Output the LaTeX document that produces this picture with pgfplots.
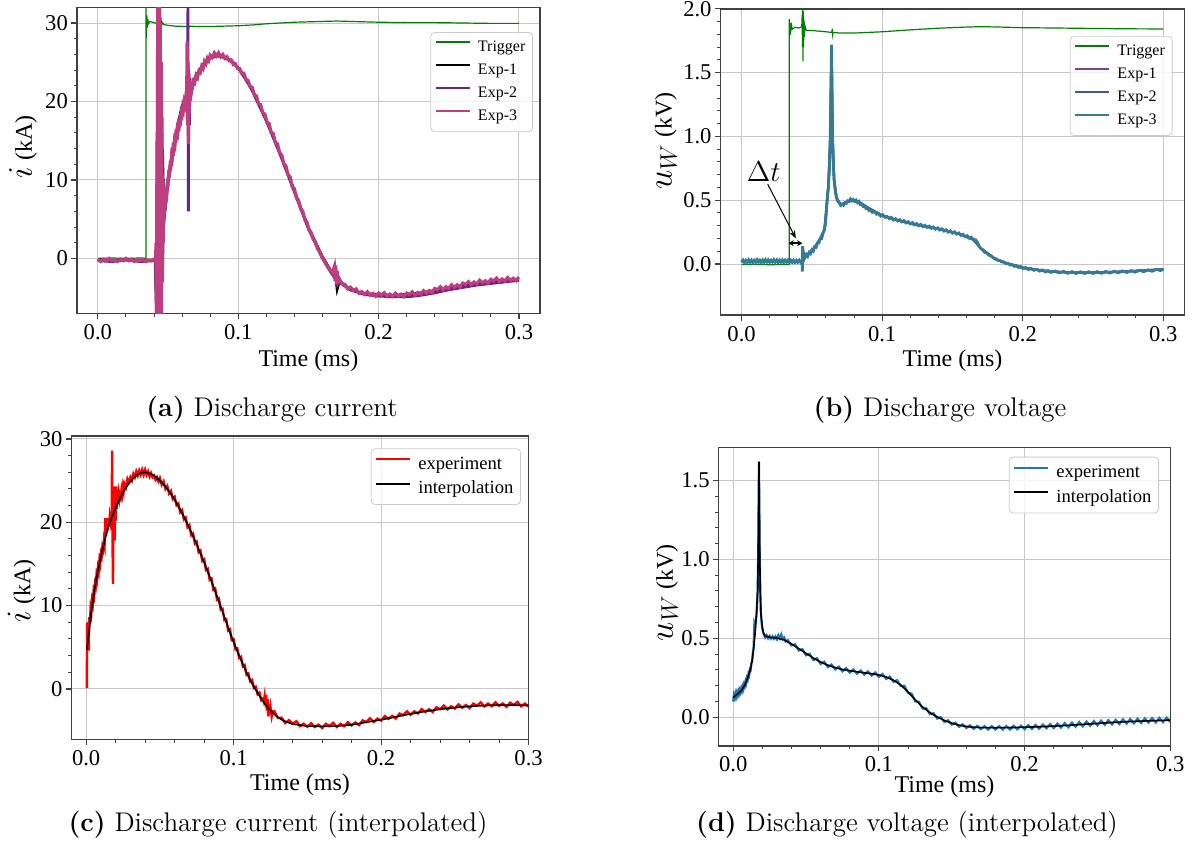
\documentclass[border=0pt]{standalone}
\usepackage{fontspec}
\newfontfamily\libser{Liberation Serif}
\usepackage{pgfplots}
\pgfplotsset{compat=1.18}
\usetikzlibrary{arrows.meta}
\definecolor{mplgreen}{RGB}{0,128,0}
\definecolor{aexptwo}{RGB}{106,35,138}
\definecolor{aexpthree}{RGB}{190,62,128}
\definecolor{bexpone}{RGB}{120,70,145}
\definecolor{bexptwo}{RGB}{65,85,160}
\definecolor{bexpthree}{RGB}{52,124,150}
\definecolor{mplblue}{RGB}{31,119,180}
\newcommand{\bigmath}[1]{{\fontsize{17}{17}\selectfont$#1$}}
\pgfplotsset{
  base/.style={
    scale only axis, anchor=south west,
    grid=major,
    major grid style={line width=0.45pt, draw=black!22},
    axis line style={line width=0.8pt, draw=black!75},
    tick align=outside, xtick pos=left, ytick pos=left,
    major tick length=2.8pt, minor tick length=1.6pt,
    major tick style={line width=0.6pt, black!75},
    minor tick style={line width=0.5pt, black!75},
    minor x tick num=4, minor y tick num=4,
    xtick={0,0.1,0.2,0.3},
    tick label style={font=\libser\fontsize{11.3}{13}\selectfont},
    yticklabel style={inner xsep=1.5pt},
    xticklabel style={inner ysep=2.5pt},
    /pgf/number format/assume math mode=true,
    xticklabel style={/pgf/number format/.cd, fixed, fixed zerofill, precision=1},
    label style={font=\libser\fontsize{12}{14}\selectfont},
    xlabel={Time (ms)},
    legend cell align=left,
    legend image code/.code={\draw[##1, line width=1.0pt] (0pt,2.6pt) -- (17pt,2.6pt);},
    legend style={draw=black!20, line width=0.4pt, rounded corners=2pt, fill=white,
      fill opacity=0.8, text opacity=1, anchor=north east, inner xsep=2pt, inner ysep=2pt,
      row sep=0.3pt, column sep=2pt},
  },
}
\begin{document}
\begin{tikzpicture}
\path[use as bounding box] (0,0) rectangle (597.5pt,-424pt);
%% ---------------- (a) ----------------
\begin{axis}[base, at={(38.4pt,-156.65pt)}, width=231.6pt, height=153pt,
  xmin=-0.015, xmax=0.315, ymin=-7, ymax=32, ytick={0,10,20,30},
  ylabel={\bigmath{i}\ (kA)},
  ylabel style={at={(axis description cs:-0.116,0.5435)}, anchor=center},
  xlabel style={at={(axis description cs:0.5,-0.156)}, anchor=center},
  legend style={at={(1,1)}, xshift=-3.5pt, yshift=-12.35pt,
    font=\libser\fontsize{8}{9}\selectfont,
    nodes={inner sep=1.6pt, text height=6pt, text depth=2pt}}]
\addplot[mplgreen, line width=0.6pt] coordinates {
(0,0.0)(0.01,0.05)(0.02,0.0)(0.03,0.05)(0.0343,0.0)(0.0343,32.5)(0.0346,28.1)(0.0349,31.0)(0.0352,29.4)(0.0356,30.5)(0.036,29.9)(0.037,30.2)(0.039,30.1)(0.041,30.0)(0.0428,30.1)(0.0432,31.5)(0.0435,33)(0.0437,27.2)(0.0439,32.8)(0.0441,27.8)(0.0443,31.6)(0.0446,28.6)(0.0449,30.7)(0.0453,29.5)(0.0458,30.1)(0.047,29.8)(0.05,29.7)(0.055,29.6)(0.0642,29.55)(0.0644,30.2)(0.0646,29.3)(0.065,29.6)(0.07,29.55)(0.08,29.55)(0.09,29.6)(0.1,29.65)(0.11,29.75)(0.12,29.9)(0.13,30.0)(0.14,30.1)(0.15,30.15)(0.16,30.2)(0.17,30.25)(0.18,30.2)(0.19,30.15)(0.2,30.1)(0.22,30.05)(0.24,30.05)(0.26,30.0)(0.28,29.95)(0.3,29.95)
};
\addlegendentry{Trigger}
\addplot[black, line width=1.4pt] coordinates {
(0,-0.2)(0.01,-0.3)(0.02,-0.2)(0.03,-0.3)(0.041,-0.2)(0.042,-8)(0.0428,25)(0.0436,-8)(0.0444,28)(0.0452,-8)(0.046,14)(0.0465,10)(0.047,5.5)(0.050,10.2)(0.055,15.3)(0.060,19.4)(0.062,20.1)(0.065,21.3)(0.070,23.3)(0.075,24.7)(0.080,25.6)(0.085,26.0)(0.09,25.7)(0.095,25.2)(0.1,24.3)(0.105,23.0)(0.11,21.4)(0.12,17.6)(0.13,13.3)(0.14,8.6)(0.15,3.9)(0.16,0.2)(0.165,-1.3)(0.1695,-2.4)(0.1705,-3.9)(0.172,-2.9)(0.18,-4.0)(0.19,-4.5)(0.2,-4.6)(0.21,-4.7)(0.22,-4.6)(0.23,-4.4)(0.24,-4.1)(0.25,-3.8)(0.26,-3.5)(0.27,-3.3)(0.28,-3.0)(0.29,-2.85)(0.3,-2.7)
};
\addlegendentry{Exp-1}
\addplot[aexptwo, line width=1.4pt] coordinates {
(0,-0.3)(0.01,-0.4)(0.02,-0.2)(0.03,-0.4)(0.041,-0.3)(0.0418,-8)(0.0425,30)(0.0432,-8)(0.044,33)(0.0447,-8)(0.0455,20)(0.046,-2)(0.0467,4)(0.050,9.6)(0.055,14.8)(0.060,18.4)(0.0638,20.5)(0.0642,33)(0.0645,6.0)(0.0648,24)(0.0652,17)(0.0656,23)(0.066,21)(0.070,23.2)(0.075,24.6)(0.080,25.5)(0.085,25.8)(0.09,25.6)(0.095,25.1)(0.1,24.3)(0.11,21.5)(0.12,17.6)(0.13,13.2)(0.14,8.5)(0.15,3.8)(0.16,0.0)(0.165,-1.5)(0.17,-2.8)(0.18,-4.0)(0.19,-4.6)(0.2,-4.8)(0.21,-4.9)(0.22,-4.9)(0.23,-4.7)(0.24,-4.4)(0.25,-4.0)(0.26,-3.7)(0.27,-3.4)(0.28,-3.2)(0.29,-3.0)(0.3,-2.8)
};
\addlegendentry{Exp-2}
\addplot[aexpthree, line width=1.6pt] coordinates {
(0,-0.1)(0.002,-0.4)(0.004,-0.1)(0.006,-0.3)(0.008,0.0)(0.010,-0.3)(0.012,-0.2)(0.014,-0.4)(0.016,-0.1)(0.018,-0.3)(0.020,0.0)(0.022,-0.3)(0.024,-0.1)(0.026,-0.4)(0.028,-0.2)(0.030,-0.3)(0.032,-0.1)(0.034,-0.4)(0.036,-0.2)(0.038,-0.3)(0.040,-0.1)(0.041,-0.3)
(0.0415,2)(0.0418,-8)(0.0421,15)(0.0424,-8)(0.0427,33)(0.0430,-8)(0.0433,33)(0.0436,-8)(0.0439,33)(0.0442,-8)(0.0445,30)(0.0448,-8)(0.0451,25)(0.0454,-8)(0.0457,18)(0.0460,-3)(0.0463,10)(0.0466,2)(0.0468,7)
(0.0470,5.0)(0.0475,6.4)(0.0480,6.7)(0.0485,8.2)(0.0490,8.0)(0.0495,9.6)(0.0500,9.5)(0.0505,10.9)(0.0510,10.8)(0.0515,12.0)(0.0520,11.9)(0.0525,13.1)(0.0530,12.8)(0.0535,14.0)(0.0540,13.8)(0.0545,14.9)(0.0550,14.6)(0.0555,15.7)(0.0560,15.5)(0.0565,16.4)(0.0570,16.1)(0.0575,17.1)(0.0580,16.9)(0.0585,17.8)(0.0590,17.6)(0.0595,18.5)(0.0600,18.3)(0.0605,19.3)(0.0610,19.0)(0.0615,19.9)(0.0620,19.6)(0.0625,20.4)(0.0630,20.1)
(0.0633,21)(0.0636,27.7)(0.0639,17)(0.0642,25)(0.0645,14.6)(0.0648,23.5)(0.0651,18.5)(0.0655,22.6)(0.066,20.8)(0.0665,22.3)(0.067,21.5)
(0.068,22.6)(0.069,22.4)(0.070,23.3)(0.071,23.0)(0.072,23.9)(0.073,23.7)(0.074,24.5)(0.075,24.2)(0.076,25.1)(0.077,24.8)(0.078,25.5)(0.079,25.2)(0.080,25.9)(0.0815,25.6)(0.083,26.2)(0.0845,25.8)(0.086,26.2)(0.0875,25.7)(0.089,26.0)(0.0905,25.5)(0.092,25.7)(0.0935,25.2)(0.095,25.3)(0.0965,24.7)(0.098,24.8)(0.0995,24.2)(0.101,24.2)(0.1025,23.6)(0.104,23.6)(0.1055,22.8)(0.107,22.7)(0.1085,21.9)(0.110,21.8)(0.1115,20.8)(0.113,20.7)(0.1145,19.7)(0.116,19.6)(0.1175,18.5)(0.119,18.4)(0.1205,17.3)(0.122,17.2)(0.1235,16.0)(0.125,15.9)(0.1265,14.7)(0.128,14.6)(0.1295,13.4)(0.131,13.2)(0.1325,12.0)(0.134,11.8)(0.1355,10.6)(0.137,10.4)(0.1385,9.1)(0.140,8.9)(0.1415,7.7)(0.143,7.4)(0.1445,6.3)(0.146,6.0)(0.1475,4.9)(0.149,4.6)(0.1505,3.6)(0.152,3.3)(0.1535,2.4)(0.155,2.1)(0.1565,1.2)(0.158,0.9)(0.1595,0.2)(0.161,-0.2)(0.1625,-0.7)(0.164,-1.0)(0.1655,-1.5)(0.167,-1.8)
(0.1685,-1.0)(0.169,-2.9)(0.1695,-0.9)(0.170,-3.3)(0.1705,-1.6)(0.171,-3.0)
(0.172,-2.58)(0.174,-3.25)(0.176,-3.30)(0.178,-3.90)(0.180,-3.67)(0.182,-4.07)(0.184,-3.89)(0.186,-4.45)(0.188,-4.23)(0.190,-4.58)(0.192,-4.25)(0.194,-4.67)(0.196,-4.47)(0.198,-4.83)(0.200,-4.43)(0.202,-4.67)(0.204,-4.37)(0.206,-4.84)(0.208,-4.55)(0.210,-4.84)(0.212,-4.44)(0.214,-4.80)(0.216,-4.56)(0.218,-4.88)(0.220,-4.42)(0.222,-4.62)(0.224,-4.27)(0.226,-4.70)(0.228,-4.35)(0.230,-4.57)(0.232,-4.11)(0.234,-4.41)(0.236,-4.10)(0.238,-4.35)(0.240,-3.84)(0.242,-3.99)(0.244,-3.61)(0.246,-4.00)(0.248,-3.62)(0.250,-3.83)(0.252,-3.36)(0.254,-3.67)(0.256,-3.37)(0.258,-3.64)(0.260,-3.15)(0.262,-3.32)(0.264,-2.96)(0.266,-3.36)(0.268,-3.01)(0.270,-3.24)(0.272,-2.79)(0.274,-3.12)(0.276,-2.85)(0.278,-3.14)(0.280,-2.67)(0.282,-2.87)(0.284,-2.52)(0.286,-2.95)(0.288,-2.62)(0.290,-2.87)(0.292,-2.44)(0.294,-2.78)(0.296,-2.53)(0.298,-2.83)(0.300,-2.38)
};
\addlegendentry{Exp-3}
\end{axis}
%% ---------------- (b) ----------------
\begin{axis}[base, at={(360.25pt,-157.5pt)}, width=231.95pt, height=153.1pt,
  xmin=-0.015, xmax=0.315, ymin=-0.4, ymax=2.0, ytick={0,0.5,1,1.5,2},
  yticklabel style={/pgf/number format/.cd, fixed, fixed zerofill, precision=1},
  ylabel={\bigmath{u_W}\ (kV)},
  ylabel style={at={(axis description cs:-0.1175,0.569)}, anchor=center},
  xlabel style={at={(axis description cs:0.5,-0.1495)}, anchor=center},
  legend style={at={(1,1)}, xshift=-5.95pt, yshift=-13.5pt,
    font=\libser\fontsize{8}{9}\selectfont,
    nodes={inner sep=1.6pt, text height=6pt, text depth=2pt}}]
\addplot[mplgreen, line width=0.6pt] coordinates {
(0,-0.005)(0.01,-0.003)(0.02,-0.006)(0.03,-0.004)(0.0339,-0.005)(0.0339,1.92)(0.0342,1.80)(0.0346,1.89)(0.035,1.83)(0.0355,1.87)(0.036,1.84)(0.038,1.855)(0.041,1.85)(0.0428,1.86)(0.0431,1.95)(0.0433,1.70)(0.0435,2.02)(0.0437,1.59)(0.0439,1.98)(0.0441,1.70)(0.0443,1.92)(0.0446,1.78)(0.045,1.87)(0.046,1.83)(0.05,1.83)(0.06,1.82)(0.0642,1.815)(0.0645,1.845)(0.0648,1.80)(0.065,1.815)(0.07,1.81)(0.08,1.81)(0.09,1.815)(0.1,1.82)(0.12,1.835)(0.14,1.848)(0.16,1.857)(0.17,1.86)(0.18,1.858)(0.2,1.852)(0.22,1.85)(0.25,1.846)(0.28,1.843)(0.3,1.842)
};
\addlegendentry{Trigger}
\addplot[bexpone, line width=1.2pt] coordinates {
(0,0.02)(0.01,0.02)(0.02,0.02)(0.03,0.02)(0.043,0.02)(0.0433,-0.05)(0.0435,0.13)(0.044,0.04)(0.048,0.085)(0.052,0.13)(0.056,0.2)(0.059,0.27)(0.0605,0.45)(0.0617,0.6)(0.063,0.95)(0.064,1.7)(0.0647,1.0)(0.0658,0.66)(0.0675,0.52)(0.0705,0.46)(0.0775,0.5)(0.0835,0.485)(0.09,0.44)(0.1,0.38)(0.11,0.345)(0.125,0.305)(0.14,0.275)(0.155,0.235)(0.165,0.19)(0.17,0.125)(0.18,0.04)(0.19,0.0)(0.2,-0.03)(0.22,-0.06)(0.24,-0.068)(0.26,-0.065)(0.28,-0.055)(0.3,-0.042)
};
\addlegendentry{Exp-1}
\addplot[bexptwo, line width=1.2pt] coordinates {
(0,0.02)(0.01,0.02)(0.02,0.02)(0.03,0.02)(0.043,0.02)(0.0433,-0.05)(0.0435,0.13)(0.044,0.04)(0.048,0.085)(0.052,0.13)(0.056,0.2)(0.059,0.27)(0.0605,0.45)(0.0617,0.6)(0.063,0.95)(0.064,1.7)(0.0647,1.0)(0.0658,0.66)(0.0675,0.52)(0.0705,0.46)(0.0775,0.5)(0.0835,0.485)(0.09,0.44)(0.1,0.38)(0.11,0.345)(0.125,0.305)(0.14,0.275)(0.155,0.235)(0.165,0.19)(0.17,0.125)(0.18,0.04)(0.19,0.0)(0.2,-0.03)(0.22,-0.06)(0.24,-0.068)(0.26,-0.065)(0.28,-0.055)(0.3,-0.042)
};
\addlegendentry{Exp-2}
\addplot[bexpthree, line width=1.4pt] coordinates {
(0,0.015)(0.001,0.03)(0.002,0.01)(0.003,0.028)(0.004,0.012)(0.005,0.032)(0.006,0.014)(0.007,0.03)(0.008,0.01)(0.009,0.029)(0.010,0.013)(0.011,0.033)(0.012,0.015)(0.013,0.03)(0.014,0.012)(0.015,0.031)(0.016,0.014)(0.017,0.034)(0.018,0.016)(0.019,0.032)(0.020,0.013)(0.021,0.03)(0.022,0.015)(0.023,0.033)(0.024,0.014)(0.025,0.031)(0.026,0.012)(0.027,0.03)(0.028,0.015)(0.029,0.032)(0.030,0.013)(0.031,0.03)(0.032,0.014)(0.033,0.031)(0.034,0.012)(0.035,0.029)(0.036,0.013)(0.037,0.03)(0.038,0.012)(0.039,0.028)(0.040,0.013)(0.041,0.03)(0.042,0.014)(0.043,0.028)
(0.0432,-0.06)(0.0434,0.14)(0.0436,0.01)(0.0438,0.1)(0.044,0.04)(0.0445,0.07)
(0.045,0.05)(0.046,0.075)(0.047,0.06)(0.048,0.09)(0.049,0.08)(0.050,0.11)(0.051,0.10)(0.052,0.135)(0.053,0.13)(0.054,0.165)(0.055,0.165)(0.056,0.2)(0.057,0.2)(0.058,0.245)(0.059,0.27)(0.0598,0.33)(0.0605,0.45)(0.061,0.53)(0.0617,0.6)(0.0624,0.72)(0.063,0.95)(0.0635,1.3)(0.0640,1.72)(0.0643,1.35)(0.0647,1.0)(0.0652,0.8)(0.0658,0.66)(0.0665,0.58)(0.0675,0.52)(0.0685,0.49)(0.0695,0.48)(0.0705,0.46)(0.0715,0.47)(0.0725,0.46)(0.0735,0.48)(0.0745,0.475)(0.0755,0.495)(0.0765,0.49)(0.0775,0.51)(0.0785,0.495)(0.0795,0.505)(0.0805,0.49)(0.0815,0.5)(0.0825,0.48)(0.0835,0.49)(0.0845,0.465)(0.0855,0.47)(0.0865,0.45)(0.0875,0.455)(0.0885,0.435)(0.0895,0.44)(0.0905,0.42)(0.0915,0.425)(0.093,0.405)(0.0945,0.41)(0.096,0.39)(0.0975,0.395)(0.099,0.375)(0.1005,0.385)(0.102,0.365)(0.1035,0.372)(0.105,0.355)(0.1065,0.365)(0.108,0.345)(0.1095,0.355)(0.111,0.338)(0.1125,0.348)(0.114,0.33)(0.1155,0.34)(0.117,0.322)(0.1185,0.332)(0.120,0.315)(0.1215,0.325)(0.123,0.307)(0.1245,0.317)(0.126,0.3)(0.1275,0.31)(0.129,0.293)(0.1305,0.303)(0.132,0.287)(0.1335,0.297)(0.135,0.28)(0.1365,0.29)(0.138,0.273)(0.1395,0.283)(0.141,0.266)(0.1425,0.276)(0.144,0.258)(0.1455,0.268)(0.147,0.25)(0.1485,0.26)(0.150,0.242)(0.1515,0.252)(0.153,0.234)(0.1545,0.243)(0.156,0.225)(0.1575,0.233)(0.159,0.214)(0.1605,0.222)(0.162,0.203)(0.1635,0.21)(0.165,0.19)(0.1665,0.19)(0.168,0.165)(0.169,0.14)(0.170,0.122)(0.1715,0.11)(0.173,0.09)(0.1745,0.085)(0.176,0.068)(0.1775,0.065)(0.179,0.048)(0.1805,0.045)(0.182,0.03)(0.1835,0.03)(0.185,0.015)(0.1865,0.016)(0.188,0.003)(0.1895,0.006)(0.191,-0.008)(0.1925,-0.004)(0.194,-0.018)(0.1955,-0.013)(0.197,-0.027)(0.1985,-0.02)(0.200,-0.035)(0.202,-0.028)(0.204,-0.044)(0.206,-0.036)(0.208,-0.05)(0.210,-0.042)(0.212,-0.056)(0.214,-0.047)(0.216,-0.062)(0.218,-0.051)(0.220,-0.066)(0.223,-0.055)(0.226,-0.07)(0.229,-0.058)(0.232,-0.073)(0.235,-0.06)(0.238,-0.075)(0.241,-0.061)(0.244,-0.075)(0.247,-0.061)(0.250,-0.074)(0.253,-0.06)(0.256,-0.073)(0.259,-0.058)(0.262,-0.071)(0.265,-0.057)(0.268,-0.069)(0.271,-0.055)(0.274,-0.067)(0.277,-0.052)(0.280,-0.064)(0.283,-0.049)(0.286,-0.061)(0.289,-0.046)(0.292,-0.057)(0.295,-0.042)(0.298,-0.052)(0.300,-0.04)
};
\addlegendentry{Exp-3}
\node[font=\fontsize{14}{14}\selectfont] at (axis cs:0.0157,0.72) {$\Delta t$};
\draw[-{Stealth[length=4pt,width=3pt]}, line width=0.5pt] (axis cs:0.0186,0.625) -- (axis cs:0.0386,0.2);
\draw[{Stealth[length=2.6pt,width=3pt]}-{Stealth[length=2.6pt,width=3pt]}, line width=1pt] (axis cs:0.0334,0.163) -- (axis cs:0.0432,0.163);
\end{axis}
%% ---------------- (c) ----------------
\begin{axis}[base, at={(35.7pt,-369.65pt)}, width=228.6pt, height=151.65pt,
  xmin=-0.01, xmax=0.3, ymin=-6.05, ymax=30.35, ytick={0,10,20,30},
  ylabel={\bigmath{i}\ (kA)},
  ylabel style={at={(axis description cs:-0.109,0.489)}, anchor=center},
  xlabel style={at={(axis description cs:0.5,-0.151)}, anchor=center},
  legend style={at={(1,1)}, xshift=-3.8pt, yshift=-6.15pt,
    font=\libser\fontsize{9.3}{10}\selectfont,
    nodes={inner sep=1.6pt, text height=6.8pt, text depth=1.8pt}}]
\addplot[red, line width=1.2pt] coordinates {
(0.0005,0.1)(0.0006,7.9)(0.0009,5.6)(0.0012,8.0)(0.0015,6.3)(0.0018,4.6)(0.0021,8.6)(0.0025,7.8)(0.003,9.6)(0.0035,9.1)(0.004,10.6)(0.0045,10.2)(0.005,11.6)(0.0055,11.2)(0.006,12.6)(0.0065,12.3)(0.007,13.6)(0.0075,13.2)(0.008,14.5)(0.0085,14.1)(0.009,15.4)(0.0095,15.0)(0.010,16.2)(0.0105,15.9)(0.011,17.0)(0.0115,16.7)(0.012,17.8)(0.0125,17.3)(0.013,20.5)(0.0135,18.3)(0.014,20.5)(0.0145,19.0)(0.015,20.2)(0.0155,19.5)(0.016,20.7)(0.0165,20.1)(0.017,21.2)(0.0173,20.4)(0.0176,28.6)(0.0179,17.5)(0.0182,12.6)(0.0185,23.8)(0.0188,19.0)(0.0191,24.3)(0.0194,17.8)(0.0197,23.0)(0.0200,20.2)(0.0203,24.3)(0.0207,21.6)(0.021,23.5)(0.0215,22.3)(0.022,23.4)(0.0225,22.7)(0.023,23.3)(0.0235,23.0)(0.024,23.9)(0.0245,23.4)(0.025,24.3)(0.0255,23.8)(0.026,24.6)(0.027,24.2)(0.028,25.2)(0.029,24.8)(0.030,25.4)(0.031,25.0)(0.032,25.8)(0.033,25.4)(0.034,26.1)(0.035,25.6)(0.036,26.2)(0.037,25.7)(0.038,26.3)(0.039,25.7)(0.040,26.3)(0.041,25.7)(0.042,26.1)(0.043,25.5)(0.044,25.9)(0.045,25.4)(0.046,25.6)(0.047,25.1)(0.048,25.4)(0.049,24.9)
(0.050,25.3)(0.05125,24.5)(0.0525,24.9)(0.05375,24.0)(0.055,24.35)(0.05625,23.45)(0.0575,23.75)(0.05875,22.8)(0.060,23.05)(0.06125,22.05)(0.0625,22.25)(0.06375,21.2)(0.065,21.45)(0.06625,20.35)(0.0675,20.55)(0.06875,19.4)(0.070,19.65)(0.07125,18.45)(0.0725,18.65)(0.07375,17.45)(0.075,17.65)(0.07625,16.4)(0.0775,16.6)(0.07875,15.35)(0.080,15.55)(0.08125,14.25)(0.0825,14.4)(0.08375,13.1)(0.085,13.25)(0.08625,11.9)(0.0875,12.05)(0.08875,10.7)(0.090,10.85)(0.09125,9.5)(0.0925,9.6)(0.09375,8.25)(0.095,8.35)(0.09625,7.0)(0.0975,7.15)(0.09875,5.85)(0.100,5.95)(0.10125,4.75)(0.1025,4.85)(0.10375,3.7)(0.105,3.85)(0.10625,2.7)(0.1075,2.85)(0.10875,1.7)(0.110,1.85)(0.11125,0.9)(0.1125,1.05)(0.11375,0.1)(0.115,0.25)(0.11625,-0.65)(0.1175,-0.45)(0.11875,-1.35)(0.120,-1.15)
(0.1205,-1.5)(0.121,-0.9)(0.1215,-1.9)(0.122,-0.7)(0.1225,-2.6)(0.123,-1.2)(0.1235,-3.3)(0.124,-1.8)(0.1245,-3.0)(0.125,-2.2)(0.1258,-3.3)(0.1265,-2.7)
(0.1275,-2.65)(0.130,-3.48)(0.1325,-3.45)(0.135,-4.10)(0.1375,-3.75)(0.140,-4.18)(0.1425,-3.88)(0.145,-4.47)(0.1475,-4.18)(0.150,-4.55)(0.1525,-4.12)(0.155,-4.57)(0.1575,-4.30)(0.160,-4.70)(0.1625,-4.19)(0.165,-4.46)(0.1675,-4.07)(0.170,-4.57)(0.1725,-4.20)(0.175,-4.48)(0.1775,-3.99)(0.180,-4.38)(0.1825,-4.02)(0.185,-4.35)(0.1875,-3.78)(0.190,-3.98)(0.1925,-3.53)(0.195,-3.97)(0.1975,-3.56)(0.200,-3.80)(0.2025,-3.26)(0.205,-3.60)(0.2075,-3.24)(0.210,-3.55)(0.2125,-2.96)(0.215,-3.15)(0.2175,-2.69)(0.220,-3.12)(0.2225,-2.70)(0.225,-2.95)(0.2275,-2.43)(0.230,-2.78)(0.2325,-2.43)(0.235,-2.77)(0.2375,-2.21)(0.240,-2.43)(0.2425,-2.00)(0.245,-2.47)(0.2475,-2.08)(0.250,-2.35)(0.2525,-1.86)(0.255,-2.25)(0.2575,-1.93)(0.260,-2.30)(0.2625,-1.77)(0.265,-2.03)(0.2675,-1.62)(0.270,-2.12)(0.2725,-1.76)(0.275,-2.07)(0.2775,-1.61)(0.280,-2.03)(0.2825,-1.75)(0.285,-2.15)(0.2875,-1.65)(0.290,-1.93)(0.2925,-1.56)(0.295,-2.09)(0.2975,-1.76)(0.300,-2.10)
};
\addlegendentry{experiment}
\addplot[black, line width=0.8pt, smooth] coordinates {
(0.0005,4.7)(0.002,7.0)(0.004,9.9)(0.006,12.3)(0.008,14.2)(0.010,15.9)(0.012,17.4)(0.0145,19.1)(0.017,20.4)(0.0195,21.5)(0.023,22.9)(0.0265,24.0)(0.030,24.9)(0.034,25.6)(0.039,26.0)(0.045,25.7)(0.050,25.0)(0.055,24.0)(0.060,22.7)(0.065,21.1)(0.070,19.3)(0.075,17.3)(0.080,15.2)(0.085,12.9)(0.090,10.5)(0.095,8.0)(0.100,5.6)(0.105,3.5)(0.110,1.5)(0.115,-0.1)(0.120,-1.5)(0.125,-2.6)(0.130,-3.4)(0.135,-3.9)(0.140,-4.2)(0.145,-4.35)(0.150,-4.45)(0.160,-4.5)(0.170,-4.45)(0.180,-4.3)(0.190,-4.0)(0.200,-3.7)(0.210,-3.35)(0.220,-3.0)(0.230,-2.7)(0.240,-2.45)(0.250,-2.25)(0.260,-2.1)(0.270,-2.0)(0.280,-1.95)(0.290,-1.95)(0.300,-2.0)
};
\addlegendentry{interpolation}
\end{axis}
%% ---------------- (d) ----------------
\begin{axis}[base, at={(359.3pt,-372.85pt)}, width=225.85pt, height=149.2pt,
  xmin=-0.01, xmax=0.3, ymin=-0.18, ymax=1.71, ytick={0,0.5,1,1.5},
  yticklabel style={/pgf/number format/.cd, fixed, fixed zerofill, precision=1},
  ylabel={\bigmath{u_W}\ (kV)},
  ylabel style={at={(axis description cs:-0.1142,0.513)}, anchor=center},
  xlabel style={at={(axis description cs:0.5,-0.138)}, anchor=center},
  legend style={at={(1,1)}, xshift=-5.65pt, yshift=-4.7pt,
    font=\libser\fontsize{9.3}{10}\selectfont,
    nodes={inner sep=1.6pt, text height=6.8pt, text depth=1.8pt}}]
\addplot[mplblue, line width=1.1pt] coordinates {
(0,0.10)(0.0005,0.14)(0.001,0.125)(0.0015,0.15)(0.002,0.13)(0.0025,0.155)(0.003,0.14)(0.0035,0.165)(0.004,0.148)(0.0045,0.172)(0.005,0.158)(0.0055,0.182)(0.006,0.168)(0.0065,0.195)(0.007,0.18)(0.0075,0.21)(0.008,0.198)(0.0085,0.228)(0.009,0.215)(0.0095,0.25)(0.010,0.24)(0.0105,0.275)(0.011,0.265)(0.0115,0.305)(0.012,0.3)(0.0125,0.345)(0.013,0.35)(0.0135,0.41)(0.014,0.44)(0.0145,0.58)(0.015,0.56)(0.0155,0.62)(0.016,0.64)(0.0165,0.73)(0.0168,0.80)(0.0172,1.05)(0.0175,1.40)(0.0177,1.62)(0.0179,1.40)(0.0182,1.05)(0.0186,0.80)(0.019,0.67)(0.0195,0.6)(0.020,0.56)(0.0205,0.54)(0.021,0.525)(0.022,0.505)(0.023,0.52)(0.024,0.5)(0.025,0.515)(0.026,0.498)(0.027,0.513)(0.028,0.497)(0.029,0.512)(0.030,0.494)(0.031,0.52)(0.032,0.5)(0.033,0.525)(0.034,0.495)(0.035,0.505)(0.036,0.48)
(0.0375,0.488)(0.040,0.455)(0.0425,0.462)(0.045,0.423)(0.0475,0.432)(0.050,0.393)(0.0525,0.402)(0.055,0.363)(0.0575,0.374)(0.060,0.338)(0.0625,0.352)(0.065,0.318)(0.0675,0.334)(0.070,0.303)(0.0725,0.321)(0.075,0.291)(0.0775,0.311)(0.080,0.283)(0.0825,0.303)(0.085,0.276)(0.0875,0.297)(0.090,0.27)(0.0925,0.291)(0.095,0.264)(0.0975,0.284)(0.100,0.256)(0.1025,0.274)(0.105,0.243)(0.1075,0.258)(0.110,0.225)(0.1125,0.235)(0.115,0.198)(0.1175,0.2)(0.120,0.155)(0.1225,0.15)(0.125,0.1)(0.1275,0.098)(0.130,0.055)(0.1325,0.058)(0.135,0.02)(0.1375,0.026)(0.140,-0.008)(0.1425,0.001)(0.145,-0.03)(0.1475,-0.019)(0.150,-0.047)(0.1525,-0.034)(0.155,-0.06)(0.1575,-0.044)(0.160,-0.068)(0.1625,-0.051)(0.165,-0.073)(0.1675,-0.054)(0.170,-0.075)(0.1725,-0.056)(0.175,-0.078)(0.1775,-0.056)(0.180,-0.078)(0.1825,-0.056)(0.185,-0.078)(0.1875,-0.055)(0.190,-0.077)(0.1925,-0.054)(0.195,-0.076)(0.1975,-0.053)(0.200,-0.075)(0.2025,-0.05)(0.205,-0.074)(0.2075,-0.048)(0.210,-0.072)(0.2125,-0.046)(0.215,-0.07)(0.2175,-0.043)(0.220,-0.068)(0.2225,-0.04)(0.225,-0.065)(0.2275,-0.037)(0.230,-0.063)(0.2325,-0.034)(0.235,-0.06)(0.2375,-0.03)(0.240,-0.057)(0.2425,-0.027)(0.245,-0.054)(0.2475,-0.024)(0.250,-0.051)(0.2525,-0.021)(0.255,-0.048)(0.2575,-0.018)(0.260,-0.045)(0.2625,-0.016)(0.265,-0.043)(0.2675,-0.013)(0.270,-0.04)(0.2725,-0.011)(0.275,-0.038)(0.2775,-0.009)(0.280,-0.036)(0.2825,-0.007)(0.285,-0.034)(0.2875,-0.005)(0.290,-0.033)(0.2925,-0.004)(0.295,-0.031)(0.2975,-0.003)(0.300,-0.03)
};
\addlegendentry{experiment}
\addplot[black, line width=0.8pt] coordinates {
(0.0,0.125)(0.002,0.14)(0.004,0.155)(0.006,0.175)(0.008,0.205)(0.010,0.25)(0.012,0.31)(0.013,0.36)(0.014,0.43)(0.015,0.53)(0.016,0.66)(0.0168,0.80)(0.0172,1.05)(0.0175,1.40)(0.0177,1.62)(0.0179,1.40)(0.0182,1.05)(0.0186,0.80)(0.019,0.66)(0.020,0.57)(0.021,0.53)(0.022,0.515)(0.025,0.507)(0.030,0.502)(0.035,0.49)(0.040,0.465)(0.045,0.435)(0.050,0.405)(0.055,0.375)(0.060,0.35)(0.065,0.33)(0.070,0.315)(0.075,0.303)(0.080,0.295)(0.085,0.288)(0.090,0.282)(0.095,0.276)(0.100,0.268)(0.105,0.255)(0.110,0.235)(0.115,0.205)(0.120,0.16)(0.125,0.11)(0.130,0.065)(0.135,0.03)(0.140,0.002)(0.145,-0.02)(0.150,-0.037)(0.155,-0.05)(0.160,-0.058)(0.165,-0.063)(0.170,-0.065)(0.180,-0.066)(0.190,-0.065)(0.200,-0.063)(0.210,-0.06)(0.220,-0.056)(0.230,-0.051)(0.240,-0.045)(0.250,-0.039)(0.260,-0.033)(0.270,-0.028)(0.280,-0.024)(0.290,-0.021)(0.300,-0.018)
};
\addlegendentry{interpolation}
\end{axis}
%% ---------------- captions ----------------
\node[anchor=base, font=\fontsize{13.5}{16}\selectfont] at (136pt,-208pt) {\textbf{(a)} Discharge current};
\node[anchor=base, font=\fontsize{13.5}{16}\selectfont] at (470pt,-208pt) {\textbf{(b)} Discharge voltage};
\node[anchor=base, font=\fontsize{13.5}{16}\selectfont] at (139pt,-415.5pt) {\textbf{(c)} Discharge current (interpolated)};
\node[anchor=base, font=\fontsize{13.5}{16}\selectfont] at (453.5pt,-415.5pt) {\textbf{(d)} Discharge voltage (interpolated)};
\end{tikzpicture}
\end{document}
